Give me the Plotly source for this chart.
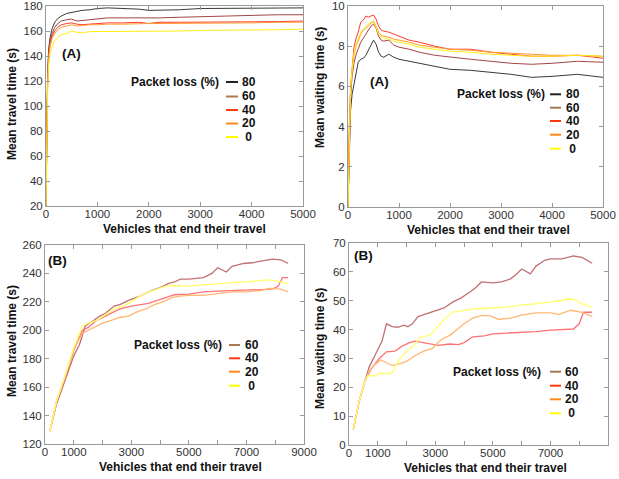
import plotly.graph_objects as go

W, H = 619, 479

# ---------------- data ----------------
loss_a = ["80", "60", "40", "20", "0"]
loss_b = ["60", "40", "20", "0"]

# Panel A: mean travel time
xa_travel = [0, 15, 30, 50, 80, 120, 170, 230, 300, 400, 500, 600, 700, 850, 1000, 1200,
             1500, 1800, 2000, 2200, 2600, 3000, 3500, 4000, 4500, 5000]
ya_travel_80 = [20, 80, 120, 145, 155, 162, 167, 170, 172, 174, 175, 175.5, 176.5, 177, 178, 178.5,
                178, 177.5, 176.5, 176.5, 177, 178, 178, 178.5, 178.5, 178.5]
ya_travel_60 = [20, 78, 118, 142, 152, 158, 163, 166, 168, 169, 169.5, 168, 168.5, 169, 169.5, 170.5,
                170.5, 170.5, 170, 170.5, 171, 171.5, 172, 172.5, 173, 173]
ya_travel_40 = [20, 76, 115, 140, 150, 156, 160, 163, 165, 166, 166.5, 165.5, 165, 165.5, 166, 166.5,
                166.5, 167, 166, 167, 167, 167, 167, 167.5, 167.5, 168]
ya_travel_20 = [20, 75, 113, 138, 148, 154, 158, 161, 163, 164, 165, 164, 164.5, 165, 165, 165.5,
                165.5, 166, 166, 166, 166, 166.5, 166.5, 166.5, 167, 167]
ya_travel_0 = [20, 72, 108, 132, 142, 148, 152, 155, 157, 158, 160, 159, 158.5, 159.5, 159.5, 160,
               160, 160, 160, 160, 160, 160.5, 160.5, 161, 161, 161.5]

# Panel A: mean waiting time
xa_wait = [0, 20, 50, 80, 120, 160, 200, 250, 300, 350, 400, 450, 500, 550, 600, 650, 700, 800, 900,
           1000, 1200, 1400, 1700, 2000, 2400, 2800, 3200, 3600, 4000, 4500, 5000]
ya_wait_80 = [0, 2.5, 4.8, 5.6, 6.2, 6.6, 7.2, 7.35, 7.4, 7.55, 7.8, 8.1, 8.3, 8.1, 7.7, 7.5, 7.45, 7.6,
              7.45, 7.35, 7.25, 7.15, 7.0, 6.85, 6.8, 6.7, 6.6, 6.45, 6.5, 6.6, 6.45]
ya_wait_60 = [0, 3, 5.5, 6.5, 7.2, 7.6, 7.9, 8.2, 8.4, 8.6, 8.8, 9.0, 9.1, 8.9, 8.5, 8.3, 8.25, 8.3,
              8.05, 7.95, 7.85, 7.7, 7.55, 7.45, 7.35, 7.25, 7.15, 7.1, 7.15, 7.25, 7.2]
ya_wait_40 = [0, 3.5, 6, 7, 8, 8.4, 8.7, 9.2, 9.3, 9.5, 9.45, 9.5, 9.55, 9.35, 9.0, 8.8, 8.75, 8.7,
              8.6, 8.5, 8.3, 8.2, 8.0, 7.85, 7.85, 7.7, 7.6, 7.5, 7.5, 7.55, 7.4]
ya_wait_20 = [0, 3.2, 5.8, 6.7, 7.6, 8.0, 8.3, 8.6, 8.8, 8.9, 9.0, 9.15, 9.25, 9.0, 8.7, 8.55, 8.5,
              8.45, 8.35, 8.3, 8.2, 8.05, 7.95, 7.85, 7.8, 7.7, 7.65, 7.6, 7.55, 7.55, 7.5]
ya_wait_0 = [0, 3.3, 5.9, 6.8, 7.7, 8.1, 8.4, 8.7, 8.85, 9.0, 9.1, 9.2, 9.2, 8.95, 8.6, 8.45, 8.4,
             8.35, 8.25, 8.2, 8.1, 7.95, 7.85, 7.75, 7.7, 7.6, 7.55, 7.5, 7.5, 7.55, 7.5]

# Panel B: mean travel time
xb_travel_60 = [170, 400, 700, 1000, 1200, 1400, 1700, 1900, 2100, 2400, 2600, 2900, 3300, 3700, 4000,
                4300, 4500, 4700, 5000, 5500, 5800, 6000, 6300, 6500, 6900, 7200, 7600, 7900, 8200, 8450]
yb_travel_60 = [129, 148, 165, 182, 190, 203, 207, 210, 212, 217, 218, 221, 224, 228, 230,
                233, 234, 236, 236, 237, 240, 244, 241, 245, 247, 247.5, 249, 250, 249.5, 247]
xb_travel_40 = [170, 400, 700, 1000, 1300, 1500, 1800, 2000, 2300, 2600, 3000, 3300, 3600, 3900, 4200,
                4500, 5000, 5500, 6000, 6500, 7000, 7500, 7900, 8100, 8250, 8450]
yb_travel_40 = [129, 150, 167, 186, 200, 202, 207, 209, 212, 215, 217, 218, 219, 221, 223,
                225, 225.5, 227, 227.5, 228, 228.5, 229, 229, 231, 237, 237]
xb_travel_20 = [170, 400, 700, 1000, 1300, 1500, 1800, 2000, 2300, 2600, 2900, 3200, 3500, 3800, 4100,
                4400, 4700, 5000, 5500, 6000, 6500, 7000, 7500, 7800, 8200, 8450]
yb_travel_20 = [129, 150, 168, 187, 198, 200, 203, 205, 207, 209, 210, 213, 215, 218, 220,
                223, 224, 224.5, 224.5, 226, 227, 227, 228, 229.5, 229, 227]
xb_travel_0 = [170, 400, 700, 1000, 1300, 1500, 1800, 2100, 2400, 2700, 3000, 3300, 3600, 3900, 4200,
               4500, 5000, 5500, 6000, 6500, 7000, 7300, 7700, 8000, 8450]
yb_travel_0 = [129, 150, 168, 188, 203, 205, 207, 211, 215, 217, 220, 224, 227, 229, 231,
               231.5, 231, 232, 233, 233.5, 234, 234.5, 235.5, 235, 233]

# Panel B: mean waiting time
xb_wait_60 = [150, 350, 550, 700, 900, 1050, 1150, 1300, 1500, 1700, 1900, 2050, 2200, 2400, 2700,
              3000, 3300, 3600, 3900, 4200, 4400, 4600, 5000, 5300, 5600, 5800, 6000, 6300, 6500,
              6800, 7000, 7400, 7800, 8100, 8450]
yb_wait_60 = [5.5, 15, 22, 27, 31, 34, 36, 42, 41, 40.8, 41.5, 41, 42, 44.5, 45.5,
              46.5, 47.5, 49.5, 51, 53, 54.5, 56.5, 56.2, 56.5, 57.5, 59, 61, 59.3, 62,
              64, 64.5, 64.5, 65.5, 65, 63]
xb_wait_40 = [150, 350, 550, 750, 900, 1050, 1300, 1600, 1800, 2100, 2300, 2600, 2800, 3100, 3500,
              3800, 4000, 4300, 4700, 5000, 5500, 6000, 6500, 7000, 7500, 7800, 8000, 8150, 8450]
yb_wait_40 = [5.5, 15, 22, 26, 28, 30, 32.3, 32.5, 34, 35.5, 36, 35.5, 35, 34.5, 35,
              34.8, 35.5, 37.5, 37.8, 38.5, 38.8, 39, 39.3, 39.8, 40, 40.2, 42, 46, 46]
xb_wait_20 = [150, 350, 550, 700, 850, 1100, 1300, 1500, 1800, 2000, 2300, 2600, 2900, 3200, 3500,
              3800, 4000, 4300, 4600, 4900, 5200, 5600, 6000, 6500, 7000, 7300, 7700, 8100, 8450]
yb_wait_20 = [5.5, 15, 22, 25.5, 27.5, 29.5, 28.5, 27.5, 28.3, 29, 31, 32.5, 33.5, 36.5, 38,
              40.5, 42, 44, 44.8, 44.8, 43.5, 44, 45, 45.8, 45.8, 45.3, 46.7, 46, 44.5]
xb_wait_0 = [150, 350, 550, 650, 900, 1100, 1300, 1500, 1700, 2000, 2200, 2500, 2800, 3000, 3300,
             3600, 3900, 4200, 4600, 5000, 5500, 6000, 6500, 7000, 7600, 7800, 8100, 8450]
yb_wait_0 = [5.5, 15, 22, 24, 24, 25, 24.7, 25, 29, 32.5, 34, 37.5, 38, 40, 43.5,
             46, 46.5, 47, 47.3, 47.5, 47.8, 48.5, 49, 49.5, 50.5, 50.5, 49, 47.8]

# ticks
xa_ticks = [0, 1000, 2000, 3000, 4000, 5000]
xb_tickvals = [0, 1000, 2000, 3000, 4000, 5000, 6000, 7000, 8000, 9000]
xb_ticktext = ["0", "1000", "", "3000", "", "5000", "", "7000", "", "9000"]
ya_travel_ticks = [20, 40, 60, 80, 100, 120, 140, 160, 180]
ya_wait_ticks = [0, 2, 4, 6, 8, 10]
yb_travel_ticks = [120, 140, 160, 180, 200, 220, 240, 260]
yb_wait_ticks = [0, 10, 20, 30, 40, 50, 60, 70]

x_title = "Vehicles that end their travel"
y_titles = ["Mean travel time (s)", "Mean waiting time (s)", "Mean travel time (s)", "Mean waiting time (s)"]
panel_labels = ["(A)", "(A)", "(B)", "(B)"]
legend_title = "Packet loss (%)"

# ---------------- styles ----------------
curve_a = {"80": "#3a3a3a", "60": "#a34545", "40": "#ff3a2a", "20": "#ff9a30", "0": "#ffee10"}
curve_b = {"60": "#c07272", "40": "#ff7272", "20": "#ffb874", "0": "#ffff6a"}
legend_col = {"80": "#222222", "60": "#a87a52", "40": "#ff3a10", "20": "#ff8a1a", "0": "#ffff00"}

FONT = "Liberation Sans, Arial, sans-serif"


def px(x):
    return x / W


def py(y):
    return 1 - y / H


fig = go.Figure()

# plot-area boxes in pixels (left, right, top, bottom)
boxes = [(46, 303, 6, 206), (348, 603, 6, 207), (45, 304, 245, 444), (349, 608, 243, 445)]

# traces
panel_a_travel = [ya_travel_80, ya_travel_60, ya_travel_40, ya_travel_20, ya_travel_0]
panel_a_wait = [ya_wait_80, ya_wait_60, ya_wait_40, ya_wait_20, ya_wait_0]
for lab, ys in zip(loss_a, panel_a_travel):
    fig.add_trace(go.Scatter(x=xa_travel, y=ys, mode="lines", name=lab, showlegend=False,
                             line=dict(color=curve_a[lab], width=1), xaxis="x", yaxis="y"))
for lab, ys in zip(loss_a, panel_a_wait):
    fig.add_trace(go.Scatter(x=xa_wait, y=ys, mode="lines", name=lab, showlegend=False,
                             line=dict(color=curve_a[lab], width=1), xaxis="x2", yaxis="y2"))
b_travel = [(xb_travel_60, yb_travel_60), (xb_travel_40, yb_travel_40),
            (xb_travel_20, yb_travel_20), (xb_travel_0, yb_travel_0)]
b_wait = [(xb_wait_60, yb_wait_60), (xb_wait_40, yb_wait_40),
          (xb_wait_20, yb_wait_20), (xb_wait_0, yb_wait_0)]
for lab, (xs, ys) in zip(loss_b, b_travel):
    fig.add_trace(go.Scatter(x=xs, y=ys, mode="lines", name=lab, showlegend=False,
                             line=dict(color=curve_b[lab], width=1.3), xaxis="x3", yaxis="y3"))
for lab, (xs, ys) in zip(loss_b, b_wait):
    fig.add_trace(go.Scatter(x=xs, y=ys, mode="lines", name=lab, showlegend=False,
                             line=dict(color=curve_b[lab], width=1.3), xaxis="x4", yaxis="y4"))

axis_common = dict(showline=True, linecolor="#9a9a9a", linewidth=1, mirror="ticks",
                   ticks="inside", ticklen=4, tickcolor="#9a9a9a", showgrid=False, zeroline=False,
                   automargin=False,
                   tickfont=dict(family=FONT, size=11.5, color="#333333"), fixedrange=True)
title_font = dict(family=FONT, size=12, color="#111111", weight="bold")

x_ranges = [[0, 5000], [0, 5000], [0, 9000], [0, 9000]]
y_ranges = [[20, 180], [0, 10], [120, 260], [0, 70]]
y_tickvals = [ya_travel_ticks, ya_wait_ticks, yb_travel_ticks, yb_wait_ticks]

layout = dict(width=W, height=H, margin=dict(l=0, r=0, t=0, b=0, autoexpand=False),
              paper_bgcolor="white", plot_bgcolor="white", showlegend=False)
for i in range(4):
    l, r, t, b = boxes[i]
    sx = "" if i == 0 else str(i + 1)
    xa = dict(axis_common, domain=[px(l), px(r)], range=x_ranges[i], anchor="y" + sx,
              ticklabelstandoff=-3)
    if i < 2:
        xa.update(tickvals=xa_ticks)
    else:
        xa.update(tickvals=xb_tickvals, ticktext=xb_ticktext)
    ya = dict(axis_common, domain=[py(b), py(t)], range=y_ranges[i], anchor="x" + sx,
              tickvals=y_tickvals[i])
    layout["xaxis" + sx] = xa
    layout["yaxis" + sx] = ya

annotations = []
shapes = []
# x titles (pixel centers)
xtitle_pos = [(184, 229), (488, 230), (180, 467), (486, 468)]
for xx, yy in xtitle_pos:
    annotations.append(dict(x=px(xx), y=py(yy), xref="paper", yref="paper", text=x_title,
                            showarrow=False, font=title_font, xanchor="center", yanchor="middle",
                            borderpad=0))
# y titles (pixel centers)
ytitle_pos = [(12, 104), (320, 88), (12, 341), (320, 349)]
for (xx, yy), txt in zip(ytitle_pos, y_titles):
    annotations.append(dict(x=px(xx), y=py(yy), xref="paper", yref="paper", text=txt,
                            textangle=-90, showarrow=False, font=title_font,
                            xanchor="center", yanchor="middle", borderpad=0))
# panel labels
label_pos = [(60, 54), (368, 82), (46, 260), (352, 256)]
for (xx, yy), txt in zip(label_pos, panel_labels):
    annotations.append(dict(x=px(xx), y=py(yy), xref="paper", yref="paper", text=txt,
                            showarrow=False, font=dict(family=FONT, size=13.5, color="#111", weight="bold"),
                            xanchor="left", yanchor="middle"))

# legends: (title right edge, line x0, line x1, label x, row ys, labels)
legends = [
    (221, 226, 238, 240, [82, 96.5, 110, 123.5, 137], loss_a),
    (547, 550, 561, 564, [94.3, 107.7, 121, 134.7, 148.7], loss_a),
    (224, 229, 240, 243, [345, 358.3, 371.7, 385.7], loss_b),
    (543, 550, 561, 563, [371.7, 385.7, 399.3, 413.3], loss_b),
]
leg_font = dict(family=FONT, size=12, color="#111111", weight="bold")
for tx, lx0, lx1, labx, rows, labs in legends:
    annotations.append(dict(x=px(tx), y=py(rows[0]), xref="paper", yref="paper", text=legend_title,
                            showarrow=False, font=leg_font, xanchor="right", yanchor="middle"))
    for yy, lab in zip(rows, labs):
        shapes.append(dict(type="line", xref="paper", yref="paper", x0=px(lx0), x1=px(lx1),
                           y0=py(yy), y1=py(yy), line=dict(color=legend_col[lab], width=2)))
        annotations.append(dict(x=px(labx), y=py(yy), xref="paper", yref="paper",
                                text=(" " + lab) if lab == "0" else lab,
                                showarrow=False, font=leg_font, xanchor="left", yanchor="middle"))

layout["annotations"] = annotations
layout["shapes"] = shapes
fig.update_layout(**layout)
fig.write_html("out.html", config={"displayModeBar": False},
               post_script="document.body.style.margin='0';document.body.style.overflow='hidden';")
